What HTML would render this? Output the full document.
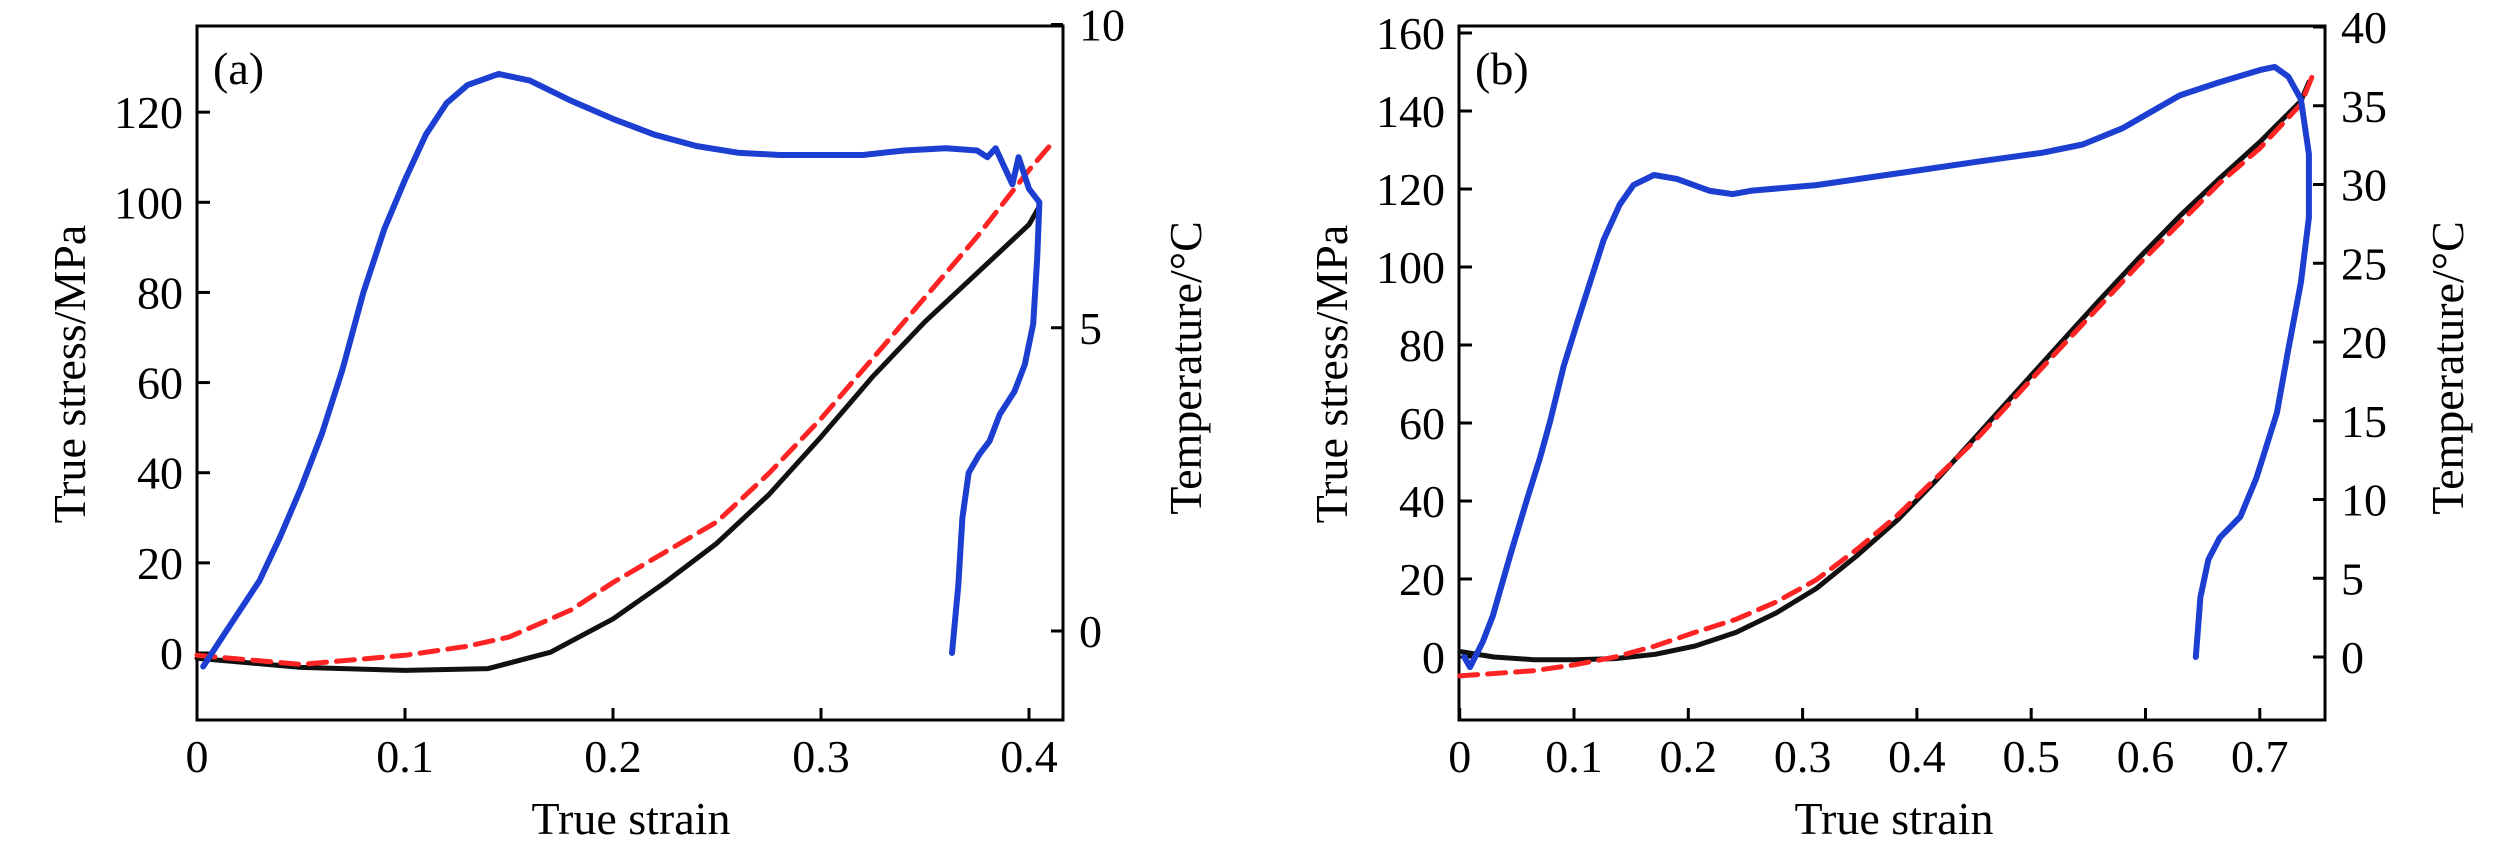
<!DOCTYPE html>
<html><head><meta charset="utf-8"><style>
html,body{margin:0;padding:0;background:#fff;}
svg{display:block;font-family:"Liberation Serif",serif;}
</style></head>
<body>
<svg id="fig" width="2520" height="850" viewBox="0 0 2520 850" xmlns="http://www.w3.org/2000/svg"></svg>
<script>
// Panel (a) data
const aBlueX=[0.003,0.01,0.02,0.03,0.04,0.05,0.06,0.07,0.08,0.09,0.1,0.11,0.12,0.13,0.145,0.16,0.18,0.2,0.22,0.24,0.26,0.28,0.3,0.32,0.34,0.36,0.375,0.38,0.384,0.388,0.392,0.395,0.4,0.405,0.404,0.402,0.398,0.393,0.386,0.381,0.376,0.371,0.368,0.366,0.364,0.363];
const aBlueY=[-3,2,9,16,25.8,36.6,48.6,63,80,94,105,115,122,126,128.5,127,122.5,118.5,115,112.5,111,110.5,110.5,110.5,111.5,112,111.5,110,112,108,104,110,103,100,88,73,64,58,53,47,44,40,30,15,5,0];
const aBlackX=[0,0.05,0.1,0.14,0.17,0.2,0.225,0.25,0.275,0.3,0.325,0.35,0.375,0.4,0.405];
const aBlackT=[-0.45,-0.6,-0.65,-0.62,-0.35,0.2,0.8,1.45,2.25,3.2,4.2,5.1,5.9,6.7,7.0];
const aRedX=[0,0.05,0.1,0.13,0.15,0.18,0.2,0.225,0.25,0.275,0.3,0.325,0.35,0.375,0.4,0.41];
const aRedT=[-0.4,-0.55,-0.4,-0.25,-0.1,0.35,0.8,1.3,1.8,2.6,3.5,4.5,5.5,6.5,7.6,8.0];
const aXTicks=[0,0.1,0.2,0.3,0.4];
const aYTicks=[0,20,40,60,80,100,120];
const aTTicks=[0,5,10];
// Panel (b) data
const bBlueX=[0.004,0.009,0.02,0.029,0.044,0.059,0.07,0.079,0.091,0.103,0.114,0.126,0.14,0.152,0.17,0.19,0.219,0.239,0.256,0.312,0.383,0.453,0.51,0.545,0.58,0.63,0.665,0.70,0.713,0.725,0.736,0.743,0.743,0.736,0.725,0.715,0.697,0.683,0.665,0.655,0.648,0.644];
const bBlueY=[0,-2.6,3.8,10.5,25.9,40.5,50.8,60.3,74.6,85.9,96,107,116,121,123.6,122.6,119.5,118.7,119.6,121,124,127,129.3,131.4,135.6,144,147.4,150.5,151.3,148.8,143,129,112.7,96,79,62.6,45.9,36,30.6,25,15.3,0];
const bBlackX=[0,0.03,0.065,0.1,0.136,0.171,0.206,0.242,0.277,0.312,0.347,0.383,0.418,0.453,0.489,0.524,0.559,0.595,0.63,0.665,0.70,0.736,0.743];
const bBlackT=[0.35,0,-0.17,-0.17,-0.1,0.17,0.7,1.57,2.8,4.35,6.4,8.7,11.3,14.1,17,19.8,22.6,25.4,28,30.4,32.7,35.3,36.5];
const bRedX=[0,0.065,0.1,0.136,0.171,0.206,0.242,0.277,0.312,0.347,0.383,0.453,0.524,0.595,0.665,0.70,0.736,0.746];
const bRedT=[-1.2,-0.87,-0.5,0,0.7,1.57,2.4,3.5,4.9,6.8,9.0,13.9,19.5,25,30.1,32.3,35.1,36.9];
const bXTicks=[0,0.1,0.2,0.3,0.4,0.5,0.6,0.7];
const bYTicks=[0,20,40,60,80,100,120,140,160];
const bTTicks=[0,5,10,15,20,25,30,35,40];

const NS="http://www.w3.org/2000/svg";
const svg=document.getElementById('fig');
function mk(tag,attrs,parent){const e=document.createElementNS(NS,tag);for(const k in attrs)e.setAttribute(k,attrs[k]);(parent||svg).appendChild(e);return e;}

function panel(cfg){
  const g=mk('g',{});
  
  
  const X=v=>cfg.x0+v*cfg.xs, Y=v=>cfg.y0-v*cfg.ys, T=v=>cfg.t0-v*cfg.ts;
  const fr=mk('rect',{x:cfg.L,y:cfg.Tp,width:cfg.R-cfg.L,height:cfg.B-cfg.Tp,fill:'none',stroke:'#000','stroke-width':3},g);
  
  
  cfg.xt.forEach(v=>{
    const t=mk('line',{x1:X(v),x2:X(v),y1:cfg.B,y2:cfg.B-12,stroke:'#000','stroke-width':3},g);
    
    
    const l=mk('text',{x:X(v),y:cfg.B+52,'font-size':46,'text-anchor':'middle'},g);l.textContent=String(v);
    
    
  });
  cfg.yt.forEach(v=>{
    const t=mk('line',{x1:cfg.L,x2:cfg.L+13,y1:Y(v),y2:Y(v),stroke:'#000','stroke-width':3},g);
    
    
    const l=mk('text',{x:cfg.L-14,y:Y(v)+16,'font-size':46,'text-anchor':'end'},g);l.textContent=String(v);
    
    
  });
  cfg.tt.forEach(v=>{
    const t=mk('line',{x1:cfg.R,x2:cfg.R-12,y1:T(v),y2:T(v),stroke:'#000','stroke-width':3},g);
    
    
    const l=mk('text',{x:cfg.R+16,y:T(v)+16,'font-size':46,'text-anchor':'start'},g);l.textContent=String(v);
    
    
  });
  const xl=mk('text',{x:cfg.xlx,y:818+16,'font-size':46,'text-anchor':'middle'},g);xl.textContent='True strain';
  
  
  const yl=mk('text',{x:0,y:0,'font-size':46,'text-anchor':'middle',transform:`translate(${cfg.ylx+16},374) rotate(-90)`},g);yl.textContent='True stress/MPa';
  
  
  const tl=mk('text',{x:0,y:0,'font-size':46,'text-anchor':'middle',transform:`translate(${cfg.tlx+16},368) rotate(-90)`},g);tl.textContent='Temperature/°C';
  
  
  const pl=mk('text',{x:cfg.L+16,y:84,'font-size':46},g);pl.textContent='('+cfg.id+')';
  
  
  function line(xs,ys,fy,color,w,dash,name){
    const d=xs.map((v,i)=>(i?'L':'M')+X(v).toFixed(1)+','+fy(ys[i]).toFixed(1)).join('');
    const p=mk('path',{d:d,fill:'none',stroke:color,'stroke-width':w,'stroke-linejoin':'round','stroke-linecap':'round'},g);
    if(dash)p.setAttribute('stroke-dasharray',dash);
    
    
  }
  line(cfg.blackX,cfg.blackT,T,'#111',5,null,'temperature-measured-line');
  line(cfg.redX,cfg.redT,T,'#ff2424',5,'18 10','temperature-predicted-line');
  line(cfg.blueX,cfg.blueY,Y,'#1c3fd2',6,null,'stress-line');
}
panel({id:'a',L:197,R:1063,Tp:26,B:720,x0:197,xs:2080,y0:653,ys:4.507,t0:631,ts:60.65,
  xt:aXTicks,yt:aYTicks,tt:aTTicks,xlx:631,ylx:69,tlx:1185,
  blueX:aBlueX,blueY:aBlueY,blackX:aBlackX,blackT:aBlackT,redX:aRedX,redT:aRedT});
panel({id:'b',L:1459,R:2325,Tp:26,B:720,x0:1459.7,xs:1143,y0:657,ys:3.9,t0:657,ts:15.75,
  xt:bXTicks,yt:bYTicks,tt:bTTicks,xlx:1894,ylx:1331,tlx:2447,
  blueX:bBlueX,blueY:bBlueY,blackX:bBlackX,blackT:bBlackT,redX:bRedX,redT:bRedT});
</script>
</body></html>
